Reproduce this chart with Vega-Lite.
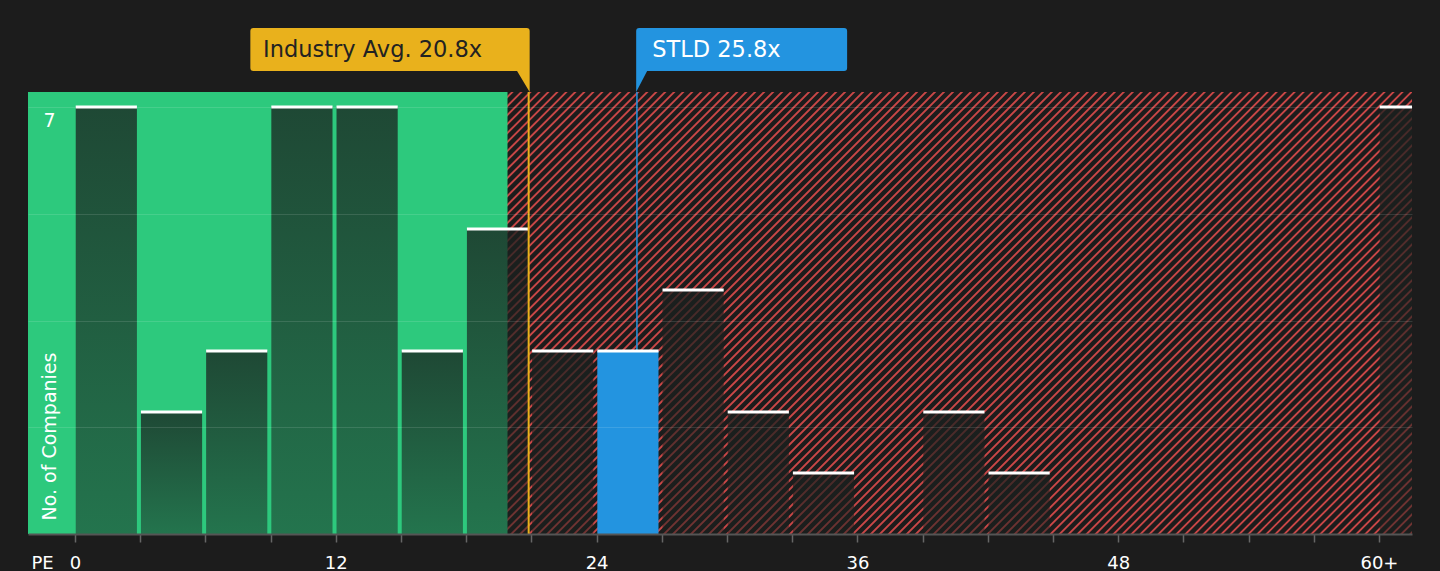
{
  "$schema": "https://vega.github.io/schema/vega-lite/v6.json",
  "description": "PE ratio of STLD against its peers and the industry average",
  "width": 1384,
  "height": 442,
  "autosize": {"type": "none"},
  "padding": {"left": 28, "top": 92, "right": 28, "bottom": 37},
  "background": "#1c1c1c",
  "config": {"font": "DejaVu Sans", "view": {"stroke": null}},
  "datasets": {
    "bins": [
      {"pe_start": 0, "pe_end": 3, "companies": 7, "group": "peers"},
      {"pe_start": 3, "pe_end": 6, "companies": 2, "group": "peers"},
      {"pe_start": 6, "pe_end": 9, "companies": 3, "group": "peers"},
      {"pe_start": 9, "pe_end": 12, "companies": 7, "group": "peers"},
      {"pe_start": 12, "pe_end": 15, "companies": 7, "group": "peers"},
      {"pe_start": 15, "pe_end": 18, "companies": 3, "group": "peers"},
      {"pe_start": 18, "pe_end": 21, "companies": 5, "group": "peers"},
      {"pe_start": 21, "pe_end": 24, "companies": 3, "group": "peers"},
      {"pe_start": 24, "pe_end": 27, "companies": 3, "group": "STLD"},
      {"pe_start": 27, "pe_end": 30, "companies": 4, "group": "peers"},
      {"pe_start": 30, "pe_end": 33, "companies": 2, "group": "peers"},
      {"pe_start": 33, "pe_end": 36, "companies": 1, "group": "peers"},
      {"pe_start": 36, "pe_end": 39, "companies": 0, "group": "peers"},
      {"pe_start": 39, "pe_end": 42, "companies": 2, "group": "peers"},
      {"pe_start": 42, "pe_end": 45, "companies": 1, "group": "peers"},
      {"pe_start": 45, "pe_end": 48, "companies": 0, "group": "peers"},
      {"pe_start": 48, "pe_end": 51, "companies": 0, "group": "peers"},
      {"pe_start": 51, "pe_end": 54, "companies": 0, "group": "peers"},
      {"pe_start": 54, "pe_end": 57, "companies": 0, "group": "peers"},
      {"pe_start": 57, "pe_end": 60, "companies": 0, "group": "peers"},
      {"pe_start": 60, "pe_end": 63, "companies": 7, "group": "peers"}
    ],
    "markers": [
      {"label": "Industry Avg. 20.8x", "pe": 20.8, "kind": "industry"},
      {"label": "STLD 25.8x", "pe": 25.8, "kind": "company"}
    ]
  },
  "layer": [
    {
      "data": {"values": [{"zone": "above average"}]},
      "mark": {"type": "rule", "clip": true, "stroke": "#c94747", "strokeWidth": 1400, "strokeDash": [1.9, 4.46], "strokeCap": "butt"},
      "encoding": {
        "x": {
          "datum": -4.84, "type": "quantitative",
          "scale": {"domain": [-2.164, 61.52], "nice": false, "zero": false},
          "axis": {
            "title": "PE",
            "values": [0, 3, 6, 9, 12, 15, 18, 21, 24, 27, 30, 33, 36, 39, 42, 45, 48, 51, 54, 57, 60],
            "labelExpr": "datum.value % 12 == 0 ? (datum.value == 60 ? '60+' : datum.label) : ''",
            "grid": false,
            "domainColor": "#555555", "domainWidth": 2,
            "tickColor": "#666666", "tickSize": 8, "tickWidth": 1.5,
            "labelColor": "#ffffff", "labelFontSize": 18, "labelBaseline": "alphabetic", "labelPadding": 26,
            "labelFlush": false, "labelOverlap": false,
            "titleColor": "#ffffff", "titleFontSize": 18, "titleFontWeight": "normal",
            "titleX": 14, "titleY": 34, "titleAlign": "center", "titleBaseline": "alphabetic",
            "zindex": 1
          }
        },
        "x2": {"datum": 64.24},
        "y": {
          "datum": 15.92, "type": "quantitative",
          "scale": {"domain": [0, 7.246], "nice": false, "zero": false},
          "axis": {
            "title": "No. of Companies",
            "values": [1.75, 3.5, 5.25, 7],
            "labelExpr": "datum.value == 7 ? '7' : ''",
            "grid": true, "gridColor": "#ffffff", "gridOpacity": 0.12, "gridWidth": 1,
            "domain": false, "ticks": false, "tickSize": 0,
            "labelColor": "#ffffff", "labelFontSize": 19, "labelAlign": "center", "labelBaseline": "alphabetic",
            "labelPadding": -21, "labelOffset": 19,
            "titleColor": "#ffffff", "titleFontSize": 19, "titleFontWeight": "normal",
            "titleX": 27, "titleY": 428, "titleAlign": "left", "titleBaseline": "alphabetic",
            "zindex": 1
          }
        },
        "y2": {"datum": -8.67}
      }
    },
    {
      "data": {"values": [{"zone": "below average"}]},
      "mark": {"type": "rect", "clip": true, "fill": "#2dc97d"},
      "encoding": {
        "x": {"datum": -5, "type": "quantitative"},
        "x2": {"datum": 19.9},
        "y": {"datum": 0, "type": "quantitative"},
        "y2": {"datum": 10}
      }
    },
    {
      "data": {"name": "markers"},
      "transform": [{"filter": "datum.kind == 'company'"}],
      "mark": {"type": "rule", "clip": true, "stroke": "#2394e0", "strokeWidth": 1.5, "xOffset": 1.2},
      "encoding": {
        "x": {"field": "pe", "type": "quantitative"},
        "y": {"datum": 0, "type": "quantitative"},
        "y2": {"datum": 10}
      }
    },
    {
      "data": {"name": "bins"},
      "transform": [{"filter": "datum.group != 'STLD'"}],
      "mark": {
        "type": "rect", "clip": true, "xOffset": 0.7, "x2Offset": -3.3,
        "fill": {
          "gradient": "linear", "x1": 0, "y1": 0, "x2": 0, "y2": 1,
          "stops": [
            {"offset": 0, "color": "rgba(26,32,30,0.76)"},
            {"offset": 1, "color": "rgba(26,32,30,0.5)"}
          ]
        }
      },
      "encoding": {
        "x": {"field": "pe_start", "type": "quantitative"},
        "x2": {"field": "pe_end"},
        "y": {"field": "companies", "type": "quantitative"},
        "y2": {"datum": 0}
      }
    },
    {
      "data": {"name": "bins"},
      "transform": [{"filter": "datum.group == 'STLD'"}],
      "mark": {"type": "rect", "clip": true, "xOffset": 0.7, "x2Offset": -3.3, "fill": "#2394e0"},
      "encoding": {
        "x": {"field": "pe_start", "type": "quantitative"},
        "x2": {"field": "pe_end"},
        "y": {"field": "companies", "type": "quantitative"},
        "y2": {"datum": 0}
      }
    },
    {
      "data": {"name": "bins"},
      "transform": [{"filter": "datum.companies > 0"}],
      "mark": {"type": "rule", "clip": true, "xOffset": 0.7, "x2Offset": -3.3, "stroke": "#ffffff", "strokeWidth": 3},
      "encoding": {
        "x": {"field": "pe_start", "type": "quantitative"},
        "x2": {"field": "pe_end"},
        "y": {"field": "companies", "type": "quantitative"}
      }
    },
    {
      "data": {"name": "markers"},
      "transform": [{"filter": "datum.kind == 'industry'"}],
      "mark": {"type": "rule", "clip": true, "stroke": "#e9b11c", "strokeWidth": 2, "xOffset": 1.6},
      "encoding": {
        "x": {"field": "pe", "type": "quantitative"},
        "y": {"datum": 0, "type": "quantitative"},
        "y2": {"datum": 10}
      }
    },
    {
      "data": {"name": "markers"},
      "transform": [{"filter": "datum.kind == 'industry'"}],
      "mark": {
        "type": "point", "filled": true, "opacity": 1, "size": 4, "fill": "#e9b11c", "strokeWidth": 0,
        "shape": "M 2.6 0 L -10 -21 L -273.7 -21 Q -276.7 -21 -276.7 -24 L -276.7 -61 Q -276.7 -64 -273.7 -64 L -0.4 -64 Q 2.6 -64 2.6 -61 Z"
      },
      "encoding": {
        "x": {"field": "pe", "type": "quantitative"},
        "y": {"datum": 7.246, "type": "quantitative"}
      }
    },
    {
      "data": {"name": "markers"},
      "transform": [{"filter": "datum.kind == 'industry'"}],
      "mark": {"type": "text", "align": "left", "baseline": "alphabetic", "dx": -264, "dy": -35, "fontSize": 22.5, "fill": "#222222"},
      "encoding": {
        "x": {"field": "pe", "type": "quantitative"},
        "y": {"datum": 7.246, "type": "quantitative"},
        "text": {"field": "label"}
      }
    },
    {
      "data": {"name": "markers"},
      "transform": [{"filter": "datum.kind == 'company'"}],
      "mark": {
        "type": "point", "filled": true, "opacity": 1, "size": 4, "fill": "#2394e0", "strokeWidth": 0,
        "shape": "M 0.45 0 L 0.45 -61 Q 0.45 -64 3.45 -64 L 208.4 -64 Q 211.4 -64 211.4 -61 L 211.4 -24 Q 211.4 -21 208.4 -21 L 11.4 -21 Z"
      },
      "encoding": {
        "x": {"field": "pe", "type": "quantitative"},
        "y": {"datum": 7.246, "type": "quantitative"}
      }
    },
    {
      "data": {"name": "markers"},
      "transform": [{"filter": "datum.kind == 'company'"}],
      "mark": {"type": "text", "align": "left", "baseline": "alphabetic", "dx": 16.5, "dy": -35, "fontSize": 22.5, "fill": "#ffffff"},
      "encoding": {
        "x": {"field": "pe", "type": "quantitative"},
        "y": {"datum": 7.246, "type": "quantitative"},
        "text": {"field": "label"}
      }
    }
  ]
}
